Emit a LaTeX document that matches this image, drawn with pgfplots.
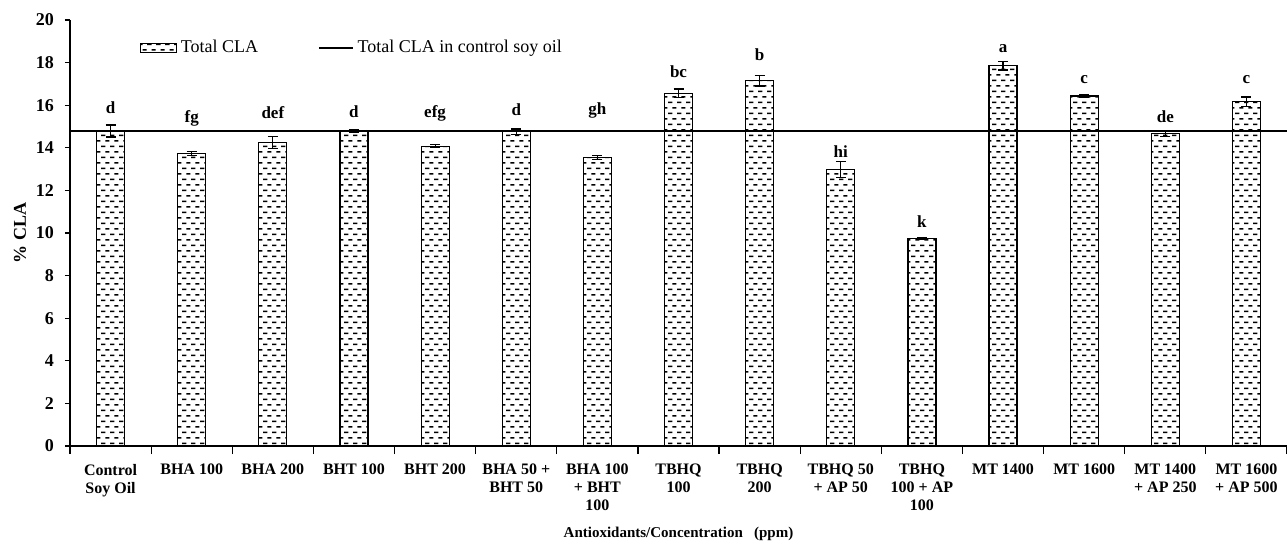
\documentclass[border=0pt]{standalone}
\usepackage{fontspec}
\setmainfont{Liberation Serif}
\usepackage{pgfplots}
\usepackage{pgfplotstable}
\pgfplotsset{compat=1.18}
\usetikzlibrary{patterns}
\pgfdeclarepatternformonly{hdash}{\pgfqpoint{0pt}{0pt}}{\pgfqpoint{4.6pt}{5.7pt}}{\pgfqpoint{4.6pt}{5.7pt}}{%
  \pgfsetlinewidth{0.75pt}%
  \pgfpathmoveto{\pgfqpoint{0.1pt}{1.4pt}}\pgfpathlineto{\pgfqpoint{2.4pt}{1.4pt}}%
  \pgfpathmoveto{\pgfqpoint{2.4pt}{4.25pt}}\pgfpathlineto{\pgfqpoint{4.6pt}{4.25pt}}%
  \pgfusepath{stroke}}

\pgfplotstableread{
x y err
0 14.79 0.28
1 13.74 0.10
2 14.26 0.28
3 14.79 0.05
4 14.08 0.07
5 14.76 0.12
6 13.54 0.10
7 16.56 0.20
8 17.15 0.25
9 12.99 0.38
10 9.75 0.05
11 17.85 0.20
12 16.43 0.07
13 14.68 0.15
14 16.16 0.23
}\cla

\pgfplotstableread{
x y lab
0 15.87 d
1 15.40 fg
2 15.63 def
3 15.68 d
4 15.63 efg
5 15.77 d
6 15.74 gh
7 17.57 bc
8 18.36 b
9 13.82 hi
10 10.53 k
11 18.67 a
12 17.18 c
13 15.46 de
14 17.18 c
}\letters

\pgfplotstableread{
x y
-0.5 14.79
14.5 14.79
}\control

\begin{document}
\begin{tikzpicture}
\begin{axis}[
  scale only axis,
  width=608.5pt, height=213pt,
  xmin=-0.5, xmax=14.5, ymin=0, ymax=20,
  axis x line*=bottom, axis y line*=left,
  axis line style={-, black, line width=0.6pt},
  tick align=outside,
  ytick={0,2,...,20},
  major tick length=2.5pt,
  minor tick length=4pt,
  xtick={0,...,14},
  minor xtick={-0.5,0.5,...,14.5},
  major x tick style={draw=none},
  minor x tick style={black, line width=0.6pt},
  y tick style={black, line width=0.6pt},
  /pgf/number format/assume math mode=true,
  yticklabel style={font=\fontsize{9}{10}\selectfont\bfseries, xshift=-2pt},
  xticklabel style={font=\fontsize{8}{9}\selectfont\bfseries, align=center, yshift=-3pt},
  xticklabels={{Control\\Soy Oil},{BHA 100},{BHA 200},{BHT 100},{BHT 200},{BHA 50 +\\BHT 50},{BHA 100\\+ BHT\\100},{TBHQ\\100},{TBHQ\\200},{TBHQ 50\\+ AP 50},{TBHQ\\100 + AP\\100},{MT 1400},{MT 1600},{MT 1400\\+ AP 250},{MT 1600\\+ AP 500}},
  ylabel={\% CLA},
  ylabel style={font=\fontsize{9}{10}\selectfont\bfseries, yshift=-2pt},
  xlabel={Antioxidants/Concentration\ \ \ (ppm)},
  xlabel style={font=\fontsize{7.5}{8}\selectfont\bfseries, yshift=-1pt},
  legend columns=2,
  legend style={draw=none, fill=none, at={(0.052,0.934)}, anchor=west,
    font=\fontsize{9}{10}\selectfont,
    /tikz/every even column/.append style={column sep=28pt}},
]
\addplot[ybar, bar width=14pt, draw=black, line width=0.6pt, pattern=hdash,
  legend image code/.code={\draw[pattern=hdash, draw=black, line width=0.6pt] (0pt,-2.3pt) rectangle (18pt,2.3pt);},
  error bars/.cd, y dir=both, y explicit,
  error bar style={black, line width=0.6pt},
  error mark options={rotate=90, black, mark size=2.5pt, line width=0.6pt}]
  table[x=x, y=y, y error=err] {\cla};
\addlegendentry{Total CLA}
\addplot[black, line width=0.9pt, mark=none,
  legend image code/.code={\draw[black, line width=0.8pt] (0pt,0pt) -- (17pt,0pt);}]
  table[x=x, y=y] {\control};
\addlegendentry{Total CLA in control soy oil}
\addplot[forget plot, only marks, mark=none, nodes near coords, point meta=explicit symbolic,
  nodes near coords style={anchor=center, font=\fontsize{8.5}{9}\selectfont\bfseries, black}]
  table[x=x, y=y, meta=lab] {\letters};
\end{axis}
\pgfresetboundingbox
\path (-35pt,-51pt) rectangle (608.5pt,223pt);
\end{tikzpicture}
\end{document}
